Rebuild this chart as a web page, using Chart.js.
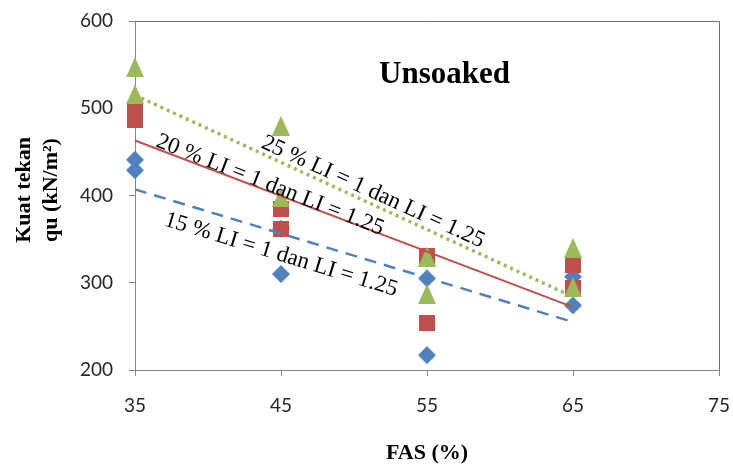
<!DOCTYPE html>
<html>
<head>
<meta charset="utf-8">
<script src="https://cdn.jsdelivr.net/npm/chart.js@4"></script>
<style>
  html, body { margin: 0; padding: 0; background: #ffffff; }
  #wrap { width: 733px; height: 467px; }
</style>
</head>
<body>
<div id="wrap"><canvas id="chart" width="733" height="467"></canvas></div>
<script>
// FAS (%) of each test sample, two samples (LI = 1 and LI = 1.25) per FAS
const fasValues = [35, 35, 45, 45, 55, 55, 65, 65];
// Unconfined compressive strength qu (kN/m2) per lime content
const qu15 = [441, 429, 310, 362, 305, 217, 307, 274];
const qu20 = [499, 487, 385, 362, 331, 254, 320, 294];
const qu25 = [547, 516, 480, 398, 330, 287, 340, 295];
// Linear trend lines, value at the first and last FAS
const trendFas = [35, 65];
const trend15 = [407, 255];
const trend20 = [463, 272];
const trend25 = [515, 284];
// Axis ticks
const xTicks = [35, 45, 55, 65, 75];
const yTicks = [200, 300, 400, 500, 600];
// Texts
const chartTitle = 'Unsoaked';
const xTitle = 'FAS (%)';
const yTitleLines = ['Kuat tekan', 'qu (kN/m\u00B2)'];
const lineLabels = ['15 % LI = 1 dan LI = 1.25', '20 % LI = 1 dan LI = 1.25', '25 % LI = 1 dan LI = 1.25'];

const BLUE = '#4F81BD', RED = '#C0504D', GREEN = '#9BBB59';
const AXIS = '#868686';

function makeMarker(w, h, color, shape) {
  const c = document.createElement('canvas');
  c.width = w; c.height = h;
  const g = c.getContext('2d');
  g.fillStyle = color;
  g.beginPath();
  shape(g, w, h);
  g.fill();
  return c;
}
const diamond = makeMarker(18, 18, BLUE, (g, w, h) => {
  g.moveTo(w / 2, 0); g.lineTo(w, h / 2); g.lineTo(w / 2, h); g.lineTo(0, h / 2); g.closePath();
});
const square = makeMarker(16, 16, RED, (g, w, h) => { g.rect(0, 0, w, h); });
const triangle = makeMarker(18, 20, GREEN, (g, w, h) => {
  g.moveTo(w / 2, 0); g.lineTo(w, h); g.lineTo(0, h); g.closePath();
});

const pts = (xs, ys) => xs.map((x, i) => ({ x: x, y: ys[i] }));

function trendSet(values, color, width, dash) {
  return {
    data: pts(trendFas, values),
    showLine: true,
    borderColor: color,
    borderWidth: width,
    borderDash: dash,
    borderCapStyle: 'butt',
    pointRadius: 0,
    clip: false,
    order: 0
  };
}
function markerSet(values, style, order) {
  return {
    data: pts(fasValues, values),
    pointStyle: style,
    pointRadius: 9,
    showLine: false,
    clip: false,
    order: order
  };
}

// Plot frame, titles and the rotated trend line captions
const decorations = {
  id: 'decorations',
  beforeDatasetsDraw(chart) {
    const { ctx, chartArea: a } = chart;
    ctx.save();
    ctx.strokeStyle = '#6e6e6e';
    ctx.lineWidth = 1;
    ctx.beginPath();
    ctx.moveTo(a.left, a.top + 0.5);
    ctx.lineTo(a.right + 0.5, a.top + 0.5);
    ctx.lineTo(a.right + 0.5, a.bottom);
    ctx.stroke();
    ctx.restore();
  },
  afterDraw(chart) {
    const { ctx, chartArea: a } = chart;
    const xs = chart.scales.x, ys = chart.scales.y;
    ctx.save();
    ctx.fillStyle = '#000000';
    ctx.textAlign = 'center';
    ctx.textBaseline = 'middle';

    // chart title inside the plot
    ctx.font = 'bold 31px "Liberation Serif", "Times New Roman", serif';
    ctx.fillText(chartTitle, xs.getPixelForValue(56.2), ys.getPixelForValue(538));

    // captions along the trend lines
    ctx.font = '23px "Liberation Serif", "Times New Roman", serif';
    const captions = [
      { text: lineLabels[0], x: 45.0, y: 332, angle: 17 },
      { text: lineLabels[1], x: 44.25, y: 412, angle: 21.5 },
      { text: lineLabels[2], x: 51.3, y: 404, angle: 24.5 }
    ];
    captions.forEach(c => {
      ctx.save();
      ctx.translate(xs.getPixelForValue(c.x), ys.getPixelForValue(c.y));
      ctx.rotate(c.angle * Math.PI / 180);
      ctx.fillText(c.text, 0, 0);
      ctx.restore();
    });

    // axis titles
    ctx.font = 'bold 22px "Liberation Serif", "Times New Roman", serif';
    ctx.fillText(xTitle, (a.left + a.right) / 2, 453);
    ctx.save();
    ctx.translate(24, 190);
    ctx.rotate(-Math.PI / 2);
    ctx.fillText(yTitleLines[0], 0, 0);
    ctx.restore();
    ctx.save();
    ctx.translate(51, 190);
    ctx.rotate(-Math.PI / 2);
    ctx.fillText(yTitleLines[1], 0, 0);
    ctx.restore();
    ctx.restore();
  }
};

new Chart(document.getElementById('chart'), {
  type: 'scatter',
  data: {
    datasets: [
      trendSet(trend25, GREEN, 3.5, [3, 4]),
      trendSet(trend20, RED, 2, []),
      trendSet(trend15, BLUE, 2.5, [12, 8]),
      markerSet(qu25, triangle, 1),
      markerSet(qu20, square, 2),
      markerSet(qu15, diamond, 3)
    ]
  },
  options: {
    responsive: false,
    animation: false,
    events: [],
    layout: { padding: { top: 21, right: 14, left: 0, bottom: 0 } },
    plugins: { legend: { display: false }, tooltip: { enabled: false } },
    scales: {
      x: {
        type: 'linear',
        min: xTicks[0],
        max: xTicks[xTicks.length - 1],
        afterBuildTicks: s => { s.ticks = xTicks.map(v => ({ value: v })); },
        afterFit: s => { s.height = 97; s.paddingLeft = 0; s.paddingRight = 0; },
        border: { color: AXIS, width: 1 },
        grid: { drawOnChartArea: false, drawTicks: true, tickLength: 6, color: AXIS },
        ticks: { padding: 18, color: '#262626', font: { family: 'Lato', size: 19 }, maxRotation: 0 }
      },
      y: {
        type: 'linear',
        min: yTicks[0],
        max: yTicks[yTicks.length - 1],
        afterBuildTicks: s => { s.ticks = yTicks.map(v => ({ value: v })); },
        afterFit: s => { s.width = 135; s.paddingTop = 0; s.paddingBottom = 0; },
        border: { color: AXIS, width: 1 },
        grid: { drawOnChartArea: false, drawTicks: true, tickLength: 6, color: AXIS },
        ticks: { padding: 16, color: '#262626', font: { family: 'Lato', size: 19 } }
      }
    }
  },
  plugins: [decorations]
});
</script>
</body>
</html>
